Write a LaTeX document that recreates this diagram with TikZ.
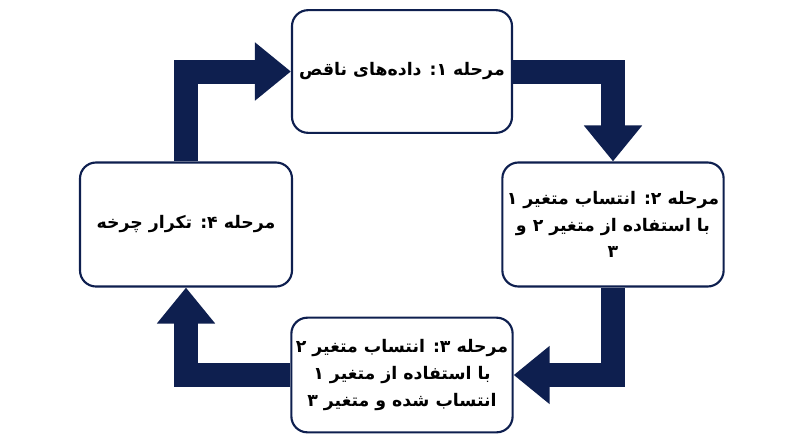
\documentclass[tikz,border=0pt]{standalone}
\usepackage{fontspec}
\newfontfamily\fa[Script=Arabic]{DejaVu Sans}
\usetikzlibrary{arrows.meta}
\TeXXeTstate=1
\newcommand{\rl}[1]{\beginR #1\endR}
\definecolor{navy}{HTML}{0E1F4F}
\tikzset{
  stage/.style={draw=navy, line width=1.6pt, rounded corners=12pt, fill=white, align=center, font=\fa\bfseries\fontsize{13}{20}\selectfont},
  flow/.style={draw=navy, line width=18pt, -{Triangle[width=42pt,length=27pt]}},
}
\begin{document}
\begin{tikzpicture}[x=0.75pt,y=-0.75pt]
\useasboundingbox (0,0) rectangle (800,447);
%Boxes
\node[stage, minimum width=165pt, minimum height=92pt] (s1) at (402,71.5) {\rl{مرحله ۱: داده‌های ناقص}};
\node[stage, minimum width=160pt, minimum height=93pt] (s2) at (613,224.5) {\rl{مرحله ۲: انتساب متغیر ۱}\\\rl{با استفاده از متغیر ۲ و}\\\rl{۳}};
\node[stage, minimum width=165pt, minimum height=86pt] (s3) at (402,375) {\rl{مرحله ۳: انتساب متغیر ۲}\\\rl{با استفاده از متغیر ۱}\\\rl{انتساب شده و متغیر ۳}};
\node[stage, minimum width=159pt, minimum height=93pt] (s4) at (186,224.5) {\rl{مرحله ۴: تکرار چرخه}};

%Arrows
\draw[flow] (s4.north) |- (s1.west);
\draw[flow] (s1.east) -| (s2.north);
\draw[flow] (s2.south) |- (s3.east);
\draw[flow] (s3.west) -| (s4.south);
\end{tikzpicture}
\end{document}
